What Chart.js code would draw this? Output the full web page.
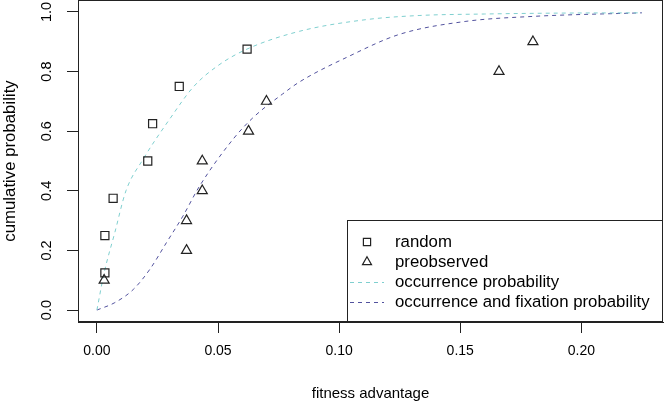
<!DOCTYPE html>
<html>
<head>
<meta charset="utf-8">
<script src="https://cdn.jsdelivr.net/npm/chart.js@4"></script>
<style>
  body { margin: 0; background: #fff; }
  #wrap { width: 665px; height: 404px; }
</style>
</head>
<body>
<div id="wrap"><canvas id="chart"></canvas></div>
<script>
// data
const randomX = [0.0033, 0.0033, 0.0067, 0.021, 0.023, 0.034, 0.062];
const randomY = [0.125, 0.25, 0.375, 0.5, 0.625, 0.75, 0.875];
const preobsX = [0.003, 0.037, 0.037, 0.0435, 0.0435, 0.0626, 0.070, 0.166, 0.180];
const preobsY = [0.1, 0.2, 0.3, 0.4, 0.5, 0.6, 0.7, 0.8, 0.9];

const occurX = [0, 0.003, 0.0074, 0.012, 0.019, 0.030, 0.040, 0.050, 0.0616, 0.0836, 0.111, 0.133, 0.16, 0.19, 0.225];
const occurY = [0, 0.125, 0.26, 0.40, 0.505, 0.64, 0.75, 0.82, 0.874, 0.935, 0.974, 0.988, 0.993, 0.996, 0.997];
const fixX = [0, 0.0074, 0.015, 0.0218, 0.0287, 0.0355, 0.0424, 0.0561, 0.0644, 0.0767, 0.0836, 0.104, 0.125, 0.152, 0.18, 0.225];
const fixY = [0, 0.025, 0.069, 0.136, 0.226, 0.315, 0.416, 0.572, 0.645, 0.725, 0.765, 0.851, 0.925, 0.968, 0.985, 0.997];

const xTicks = [0, 0.05, 0.10, 0.15, 0.20];
const yTicks = [0, 0.2, 0.4, 0.6, 0.8, 1.0];

const pts = (xs, ys) => xs.map((x, i) => ({ x: x, y: ys[i] }));
const FONT = 'Liberation Sans, Arial, Helvetica, sans-serif';
const INK = '#222';

// box round the plot, rotated y labels and the legend box
const rPlot = {
  id: 'rPlot',
  afterDraw(chart) {
    const ctx = chart.ctx;
    const a = chart.chartArea;
    ctx.save();
    ctx.strokeStyle = INK;
    ctx.lineWidth = 1;
    ctx.strokeRect(Math.round(a.left) + 0.5, Math.round(a.top) + 0.5,
                   Math.round(a.right - a.left) - 1, Math.round(a.bottom - a.top) - 1);

    // y tick labels, rotated like R
    const ys = chart.scales.y;
    ctx.fillStyle = '#000';
    ctx.font = '14.5px ' + FONT;
    ctx.textAlign = 'center';
    ctx.textBaseline = 'middle';
    yTicks.forEach(v => {
      ctx.save();
      ctx.translate(47, ys.getPixelForValue(v));
      ctx.rotate(-Math.PI / 2);
      ctx.fillText(v.toFixed(1), 0, 0);
      ctx.restore();
    });

    // legend
    const lx = 347, ly = 220, lr = Math.round(a.right) - 1, lb = Math.round(a.bottom) - 1;
    ctx.fillStyle = '#fff';
    ctx.fillRect(lx, ly, lr - lx, lb - ly);
    ctx.strokeStyle = INK;
    ctx.strokeRect(lx + 0.5, ly + 0.5, lr - lx, lb - ly);
    ctx.font = '16.8px ' + FONT;
    chart.data.datasets.forEach((ds, i) => {
      const y = 242 + i * 20;
      if (ds.showLine) {
        ctx.save();
        ctx.strokeStyle = ds.borderColor;
        ctx.lineWidth = 1;
        ctx.setLineDash(ds.borderDash);
        ctx.beginPath();
        ctx.moveTo(350, y + 0.5);
        ctx.lineTo(384, y + 0.5);
        ctx.stroke();
        ctx.restore();
      } else {
        ctx.save();
        ctx.fillStyle = 'rgba(0,0,0,0)';
        ctx.strokeStyle = ds.pointBorderColor;
        ctx.lineWidth = ds.borderWidth;
        Chart.helpers.drawPoint(ctx, {
          pointStyle: ds.pointStyle, radius: ds.pointRadius - 0.6, borderWidth: ds.borderWidth
        }, 367, y);
        ctx.restore();
      }
      ctx.fillStyle = '#000';
      ctx.textAlign = 'left';
      ctx.textBaseline = 'middle';
      ctx.fillText(ds.label, 395, y);
    });
    ctx.restore();
  }
};

new Chart(document.getElementById('chart'), {
  type: 'scatter',
  data: {
    datasets: [
      {
        label: 'random',
        data: pts(randomX, randomY),
        pointStyle: 'rect',
        pointRadius: 5.7,
        pointBorderColor: INK,
        pointBackgroundColor: 'rgba(0,0,0,0)',
        borderWidth: 1.2
      },
      {
        label: 'preobserved',
        data: pts(preobsX, preobsY),
        pointStyle: 'triangle',
        pointRadius: 5.8,
        pointBorderColor: INK,
        pointBackgroundColor: 'rgba(0,0,0,0)',
        borderWidth: 1.2
      },
      {
        label: 'occurrence probability',
        data: pts(occurX, occurY),
        showLine: true,
        pointRadius: 0,
        borderColor: '#7fcfcf',
        borderWidth: 1,
        borderDash: [4, 4],
        cubicInterpolationMode: 'monotone'
      },
      {
        label: 'occurrence and fixation probability',
        data: pts(fixX, fixY),
        showLine: true,
        pointRadius: 0,
        borderColor: '#52529e',
        borderWidth: 1,
        borderDash: [4, 4],
        cubicInterpolationMode: 'monotone'
      }
    ]
  },
  options: {
    responsive: true,
    maintainAspectRatio: false,
    animation: false,
    layout: { autoPadding: false, padding: { top: 0, right: 2, left: 0, bottom: 0 } },
    plugins: {
      legend: { display: false },
      tooltip: { enabled: false }
    },
    scales: {
      x: {
        type: 'linear',
        min: -0.0078,
        max: 0.2337,
        afterBuildTicks: s => { s.ticks = xTicks.map(v => ({ value: v })); },
        afterFit: s => { s.height = 82; s.paddingLeft = 0; s.paddingRight = 0; },
        grid: { drawOnChartArea: false, drawTicks: true, tickLength: 11, color: INK },
        border: { color: INK },
        ticks: {
          color: '#000',
          font: { family: FONT, size: 14 },
          padding: 10,
          maxRotation: 0,
          callback: v => v.toFixed(2)
        },
        title: {
          display: true,
          text: 'fitness advantage',
          color: '#000',
          font: { family: FONT, size: 15 },
          padding: { top: 0, bottom: 1 }
        }
      },
      y: {
        type: 'linear',
        min: -0.04,
        max: 1.04,
        afterBuildTicks: s => { s.ticks = yTicks.map(v => ({ value: v })); },
        afterFit: s => { s.width = 78; s.paddingTop = 0; s.paddingBottom = 0; },
        grid: { drawOnChartArea: false, drawTicks: true, tickLength: 11, color: INK },
        border: { color: INK },
        ticks: { display: false },
        title: {
          display: true,
          text: 'cumulative probability',
          color: '#000',
          font: { family: FONT, size: 16.8 },
          padding: { top: 0, bottom: 0 }
        }
      }
    }
  },
  plugins: [rPlot]
});
</script>
</body>
</html>
